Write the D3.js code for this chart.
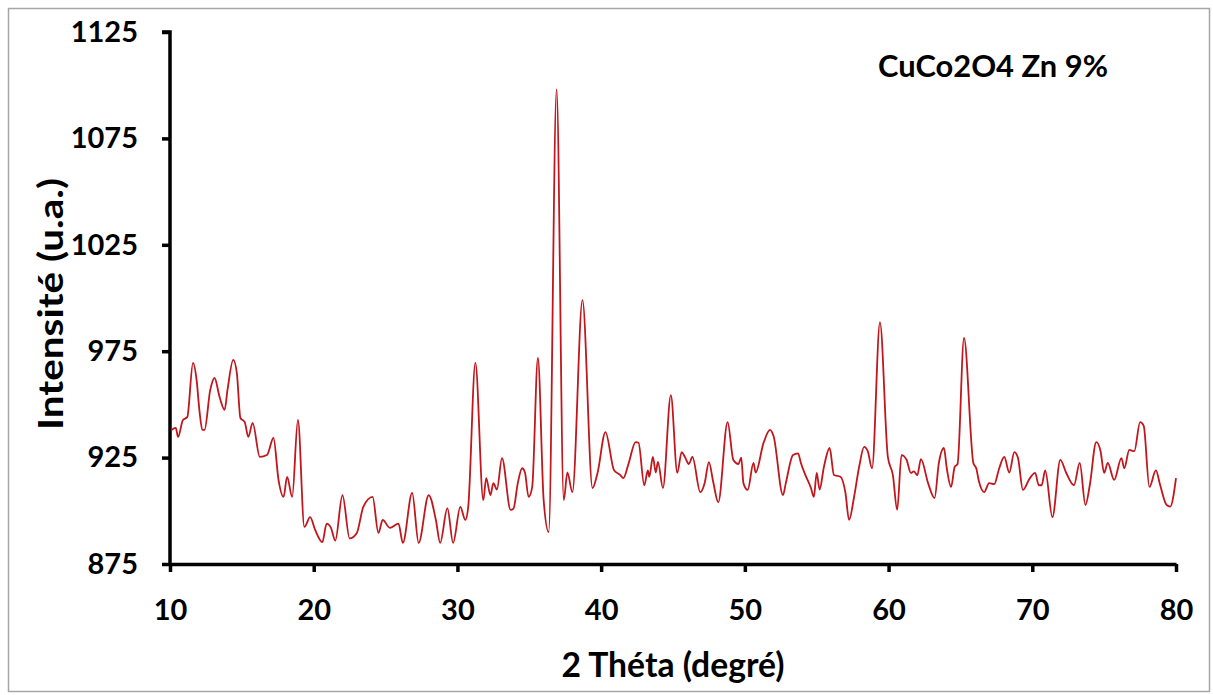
<!DOCTYPE html>
<html><head><meta charset="utf-8">
<script src="https://cdn.jsdelivr.net/npm/d3@7"></script>
<style>body{margin:0;background:#fff}svg{display:block}text{font-family:Lato,"Open Sans",sans-serif;font-weight:700;fill:#000}</style>
</head><body>
<svg id="c" width="1213" height="695"></svg>
<script>
const theta = [10.1,10.4,10.56,10.9,11.2,11.6,11.85,12.05,12.25,12.4,12.8,13.1,13.45,13.8,14.0,14.4,14.65,14.9,15.2,15.45,15.75,16.25,16.75,17.2,17.55,17.9,18.15,18.5,18.9,19.35,19.75,20.1,20.6,20.9,21.2,21.5,22.0,22.5,23.0,23.45,24.1,24.5,24.8,25.3,25.9,26.2,26.85,27.3,28.0,28.5,28.8,29.3,29.7,30.2,30.55,30.75,31.25,31.8,32.0,32.3,32.5,32.75,33.1,33.7,33.9,34.2,34.5,34.7,34.95,35.2,35.6,36.0,36.35,36.9,37.4,37.65,38.0,38.7,39.4,39.75,40.3,40.9,41.3,41.55,41.9,42.4,42.6,43.0,43.25,43.35,43.6,43.8,43.95,44.3,44.85,45.3,45.6,45.85,46.1,46.35,46.9,47.2,47.5,47.8,48.15,48.8,49.2,49.55,49.75,49.9,50.2,50.6,50.75,51.3,51.75,52.0,52.65,52.85,53.35,53.7,53.9,54.15,54.6,54.8,55.0,55.2,55.5,55.9,56.2,56.65,57.0,57.25,57.6,57.95,58.3,58.55,58.85,59.4,59.95,60.3,60.6,60.9,61.25,61.55,61.75,62.0,62.25,62.75,63.2,63.5,63.85,64.05,64.35,64.6,64.8,65.25,65.9,66.1,66.3,66.65,67.0,67.35,67.7,68.05,68.4,68.75,69.0,69.35,69.8,70.2,70.45,70.65,70.9,71.4,71.95,72.35,72.9,73.3,73.7,74.0,74.45,74.75,75.0,75.25,75.7,76.2,76.4,76.75,77.1,77.5,77.75,78.15,78.6,78.9,79.35,79.6,80.0];
const intensity = [938,939,934.7,942.7,944,969.5,961.5,947,938,938,956.8,962.4,953.5,947.4,956.8,970.9,964.8,943.6,941.7,934.7,941.3,925.3,926.2,934.2,914.5,906.5,915.9,906.5,942.7,892.4,897,891,885.3,894,892,886,907.4,887,889.6,901.8,906.5,889.6,895.7,892,894,884.9,908.4,884.9,907.4,895.7,884.9,901.3,884.9,901.8,895.7,901.8,969.5,905,915.4,907.4,913,910,924.8,900.4,901,913,920,918,906.5,911,971.8,905,890,1098,905,918,908.8,999,910.7,917.8,937,919,917,915.4,922,932.3,932,912,919,916,925.3,918,923,910.7,954.4,917.8,927.6,925,922,925.3,908.8,913,922.9,913.5,904,941.7,923.9,922,925,913,909.8,922.5,918,931.9,938,935,907.4,913,926.2,927,922.5,917.8,910.7,906.5,917.8,910,920.6,929.5,916.8,916,908.4,895.7,906.5,920.6,930,928,920,988.5,925.3,916.8,900.4,926.2,924,917.8,918.5,916.8,924.3,913,906,922.5,929.5,920,911.2,920.6,922,981.2,922.5,920,913.5,908.8,913,912.5,920,925.3,918,927.6,925,909.8,915,917.8,912,912,919,897,923.9,918,912,922.5,902.7,912,932.3,928,917.8,922.5,914.5,924.8,920,928.6,928,941.7,940,911.2,919,912,902.7,902,915.4];
const xTicks = [10,20,30,40,50,60,70,80];
const yTicks = [875,925,975,1025,1075,1125];
const xLabel = "2 Théta (degré)";
const yLabel = "Intensité (u.a.)";
const note = "CuCo2O4 Zn 9%";

const svg = d3.select("#c");
svg.append("rect").attr("x",8.5).attr("y",8.5).attr("width",1201).attr("height",683)
  .attr("fill","#fff").attr("stroke","#a6a6a6").attr("stroke-width",1.5);

const x = d3.scaleLinear().domain([10,80]).range([170,1176]);
const y = d3.scaleLinear().domain([875,1125]).range([564,32]);

const xAxis = svg.append("g").attr("transform","translate(0,564)")
  .call(d3.axisBottom(x).tickValues(xTicks).tickFormat(d3.format("d")).tickSizeInner(8).tickSizeOuter(0).tickPadding(27));
const yAxis = svg.append("g").attr("transform","translate(170,0)")
  .call(d3.axisLeft(y).tickValues(yTicks).tickFormat(d3.format("d")).tickSizeInner(8).tickSizeOuter(0).tickPadding(24));
[xAxis,yAxis].forEach(g=>{
  g.select(".domain").attr("stroke","#000").attr("stroke-width",3.5);
  g.selectAll(".tick line").attr("stroke","#000").attr("stroke-width",3.5);
  g.selectAll(".tick text").style("font-size","29px").style("font-family","Lato, sans-serif").style("font-weight","700").attr("fill","#000");
});
yAxis.select(".domain").attr("d","M-8,32H0V564");

const line = d3.line().x((d,i)=>x(theta[i])).y(d=>y(d)).curve(d3.curveMonotoneX);
svg.append("path").datum(intensity).attr("d",line)
  .attr("fill","none").attr("stroke","#c0161c").attr("stroke-width",1.8).attr("stroke-linejoin","round");

svg.append("text").attr("x",673).attr("y",677).attr("text-anchor","middle")
  .style("font-size","34px").attr("textLength",223).attr("lengthAdjust","spacingAndGlyphs").text(xLabel);
svg.append("text").attr("transform","translate(63,304) rotate(-90)").attr("text-anchor","middle")
  .style("font-size","34px").attr("textLength",252).attr("lengthAdjust","spacingAndGlyphs").text(yLabel);
svg.append("text").attr("x",878).attr("y",77).style("font-size","31px")
  .attr("textLength",230).attr("lengthAdjust","spacingAndGlyphs").text(note);
</script>
</body></html>
